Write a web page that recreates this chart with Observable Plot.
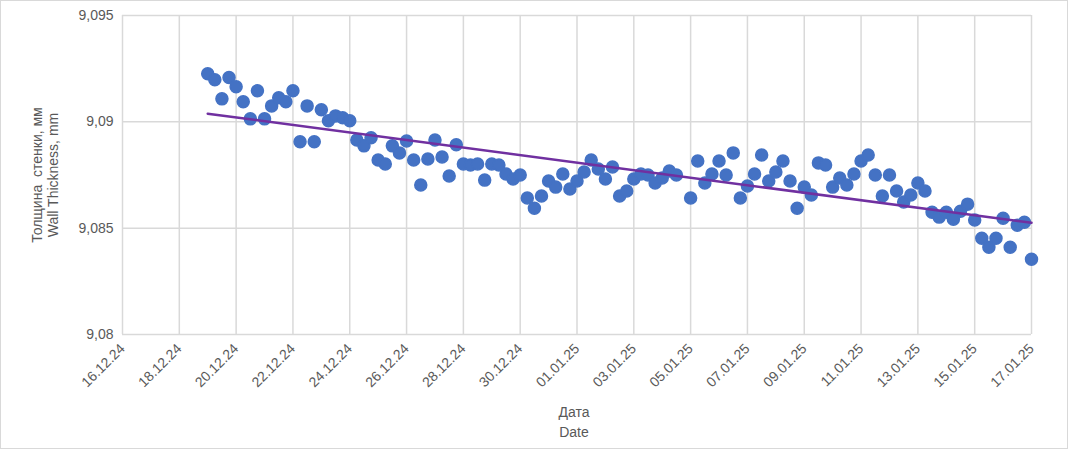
<!DOCTYPE html>
<html><head><meta charset="utf-8">
<script src="https://cdn.jsdelivr.net/npm/d3@7"></script>
<script src="https://cdn.jsdelivr.net/npm/@observablehq/plot@0.6"></script>
<style>body{margin:0;background:#fff;font-family:"Liberation Sans",Arial,sans-serif}#c{position:relative;width:1066px;height:447px;border:1px solid #d9d9d9}</style>
</head><body><div id="c"></div>
<script>
// days since 16.12.2024 00:00 (6-hour readings)
const dayOffsets = [3,3.25,3.5,3.75,4,4.25,4.5,4.75,5,5.25,5.5,5.75,6,6.25,6.5,6.75,7,7.25,7.5,7.75,8,8.25,8.5,8.75,9,9.25,9.5,9.75,10,10.25,10.5,10.75,11,11.25,11.5,11.75,12,12.25,12.5,12.75,13,13.25,13.5,13.75,14,14.25,14.5,14.75,15,15.25,15.5,15.75,16,16.25,16.5,16.75,17,17.25,17.5,17.75,18,18.25,18.5,18.75,19,19.25,19.5,20,20.25,20.5,20.75,21,21.25,21.5,21.75,22,22.25,22.5,22.75,23,23.25,23.5,23.75,24,24.25,24.5,24.75,25,25.25,25.5,25.75,26,26.25,26.5,26.75,27,27.25,27.5,27.75,28,28.25,28.5,28.75,29,29.25,29.5,29.75,30,30.25,30.5,30.75,31,31.25,31.5,31.75,32];
const thickness = [9.09226,9.09198,9.09108,9.09208,9.09165,9.09094,9.09014,9.09146,9.09014,9.09075,9.09113,9.09094,9.09146,9.08906,9.09075,9.08906,9.09057,9.09005,9.09028,9.09019,9.09005,9.08915,9.08887,9.08925,9.08821,9.08802,9.08887,9.08854,9.0891,9.08821,9.08703,9.08825,9.08915,9.08835,9.08745,9.08892,9.08802,9.08797,9.08802,9.08726,9.08802,9.08797,9.08755,9.08731,9.0875,9.08642,9.08594,9.08651,9.08722,9.08693,9.08755,9.08684,9.08722,9.08764,9.08821,9.08778,9.08731,9.08788,9.08651,9.08675,9.08731,9.08755,9.0875,9.08712,9.08736,9.08769,9.0875,9.08642,9.08816,9.08712,9.08755,9.08816,9.0875,9.08854,9.08642,9.08698,9.08755,9.08844,9.08722,9.08764,9.08816,9.08722,9.08594,9.08693,9.08656,9.08807,9.08797,9.08693,9.08736,9.08703,9.08755,9.08816,9.08844,9.0875,9.08651,9.0875,9.08675,9.08623,9.08656,9.08712,9.08675,9.08575,9.08552,9.08575,9.08542,9.0858,9.08613,9.08538,9.08453,9.0841,9.08453,9.08547,9.0841,9.08514,9.08528,9.08354];
const yTicks = [9.08,9.085,9.09,9.095];
const start = Date.UTC(2024,11,16);
const data = dayOffsets.map((d,i)=>({date:new Date(start+d*864e5), v:thickness[i]}));
const xTicks = d3.range(0,33,2).map(d=>new Date(start+d*864e5));
const fmtY = d=>String(d).replace(".",",");
const plot = Plot.plot({
  width:1066, height:447,
  marginLeft:121, marginRight:36, marginTop:14, marginBottom:114,
  style:{fontFamily:"Liberation Sans, Arial, sans-serif", fontSize:"14px", color:"#595959"},
  x:{type:"utc", domain:[new Date(start), new Date(start+32*864e5)], ticks:xTicks, tickFormat:d3.utcFormat("%d.%m.%y"), tickRotate:-45, tickSize:0, label:null},
  y:{domain:[9.08,9.095], ticks:yTicks, tickFormat:fmtY, tickSize:0, label:null},
  marks:[
    Plot.gridX(xTicks,{stroke:"#d9d9d9", strokeOpacity:1, strokeWidth:1.5}),
    Plot.gridY(yTicks,{stroke:"#d9d9d9", strokeOpacity:1, strokeWidth:1.5}),
    Plot.dot(data,{x:"date", y:"v", r:6, fill:"#4472C4", stroke:"#4472C4"}),
    Plot.linearRegressionY(data,{x:"date", y:"v", stroke:"#7030A0", strokeWidth:2.5, ci:0})
  ]
});
document.getElementById("c").appendChild(plot);
const svg = d3.select(plot);
svg.selectAll("[aria-label='x-axis tick label'] text, [aria-label='y-axis tick label'] text").attr("fill","#595959");
const g = svg.append("g").attr("fill","#595959").attr("font-size",14);
g.append("text").attr("x",573).attr("y",416).attr("text-anchor","middle").text("Дата");
g.append("text").attr("x",573).attr("y",436).attr("text-anchor","middle").text("Date");
g.append("text").attr("transform","translate(41,174) rotate(-90)").attr("text-anchor","middle").text("Толщина  стенки, мм");
g.append("text").attr("transform","translate(57,174) rotate(-90)").attr("text-anchor","middle").text("Wall Thickness, mm");
</script></body></html>
